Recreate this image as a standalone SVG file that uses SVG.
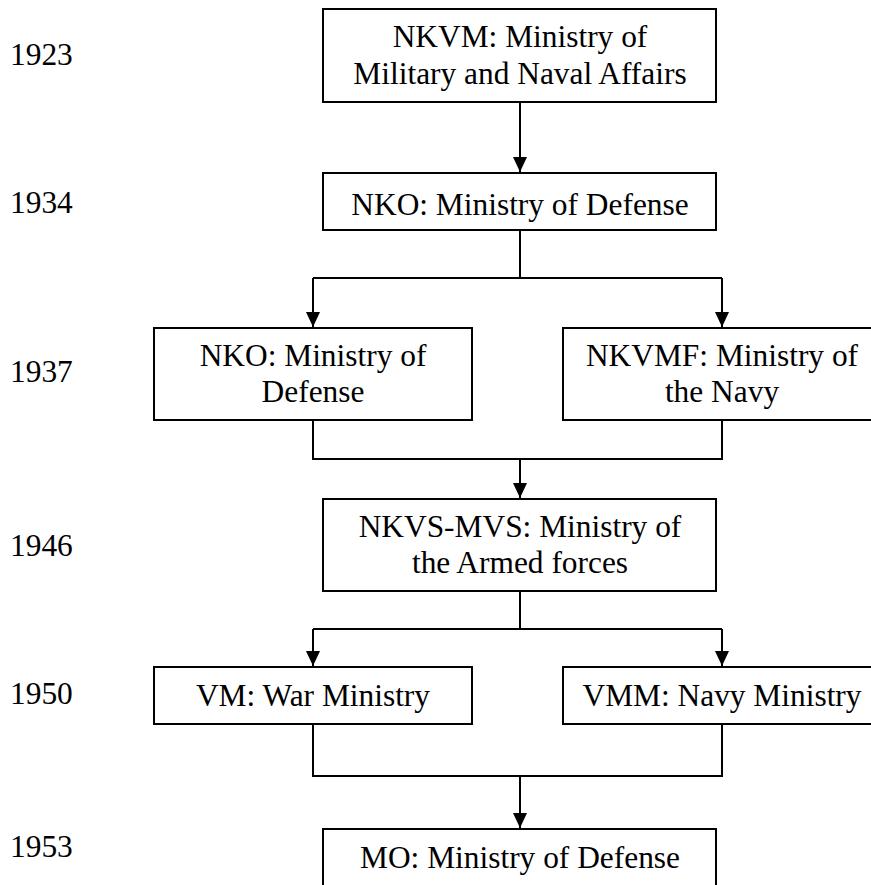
<svg xmlns="http://www.w3.org/2000/svg" width="871" height="885" viewBox="0 0 871 885">
<style>
  .box { fill: #fff; stroke: #000; stroke-width: 2; }
  text { font-family: "Times New Roman", "Liberation Serif", Times, serif; font-size: 31.4px; fill: #000; }
  .c { text-anchor: middle; }
  .ln { fill: none; stroke: #000; stroke-width: 2; }
</style>
<defs>
  <marker id="arr" markerUnits="userSpaceOnUse" markerWidth="16" markerHeight="16" viewBox="0 0 16 16" refX="15" refY="8" orient="auto">
    <path d="M0,1 L15,8 L0,15 Z" fill="#000"/>
  </marker>
</defs>
<rect width="871" height="885" fill="#fff"/>

<g id="years">
  <text x="10" y="65">1923</text>
  <text x="10" y="213">1934</text>
  <text x="10" y="382">1937</text>
  <text x="10" y="556">1946</text>
  <text x="10" y="704">1950</text>
  <text x="10" y="857">1953</text>
</g>

<g id="connectors">
  <path class="ln" d="M520,102 V172" marker-end="url(#arr)"/>
  <path class="ln" d="M520,230 V278 M313,278 H722"/>
  <path class="ln" d="M313,278 V327" marker-end="url(#arr)"/>
  <path class="ln" d="M722,278 V327" marker-end="url(#arr)"/>
  <path class="ln" d="M313,420 V459 H722 V420"/>
  <path class="ln" d="M520,459 V498" marker-end="url(#arr)"/>
  <path class="ln" d="M520,591 V629 M313,629 H722"/>
  <path class="ln" d="M313,629 V666" marker-end="url(#arr)"/>
  <path class="ln" d="M722,629 V666" marker-end="url(#arr)"/>
  <path class="ln" d="M313,724 V776 H722 V724"/>
  <path class="ln" d="M520,776 V828" marker-end="url(#arr)"/>
</g>

<g id="n1923">
  <rect class="box" x="323" y="9" width="393" height="93"/>
  <text class="c" x="520" y="47">NKVM: Ministry of</text>
  <text class="c" x="520" y="84">Military and Naval Affairs</text>
</g>
<g id="n1934">
  <rect class="box" x="323" y="173" width="393" height="57"/>
  <text class="c" x="520" y="215">NKO: Ministry of Defense</text>
</g>
<g id="n1937a">
  <rect class="box" x="154" y="328" width="318" height="92"/>
  <text class="c" x="313" y="366">NKO: Ministry of</text>
  <text class="c" x="313" y="402">Defense</text>
</g>
<g id="n1937b">
  <rect class="box" x="563" y="328" width="318" height="92"/>
  <text class="c" x="722" y="366">NKVMF: Ministry of</text>
  <text class="c" x="722" y="402">the Navy</text>
</g>
<g id="n1946">
  <rect class="box" x="323" y="499" width="393" height="92"/>
  <text class="c" x="520" y="537">NKVS-MVS: Ministry of</text>
  <text class="c" x="520" y="573">the Armed forces</text>
</g>
<g id="n1950a">
  <rect class="box" x="154" y="667" width="318" height="57"/>
  <text class="c" x="313" y="706">VM: War Ministry</text>
</g>
<g id="n1950b">
  <rect class="box" x="563" y="667" width="318" height="57"/>
  <text class="c" x="722" y="706">VMM: Navy Ministry</text>
</g>
<g id="n1953">
  <rect class="box" x="323" y="829" width="393" height="80"/>
  <text class="c" x="520" y="868">MO: Ministry of Defense</text>
</g>
</svg>
